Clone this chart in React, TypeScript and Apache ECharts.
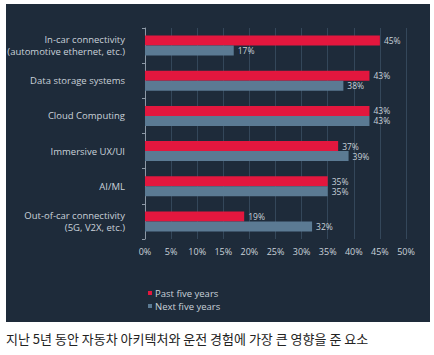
import React, { useEffect, useRef } from "react";
import * as echarts from "echarts";

const categories = [
  "In-car connectivity\n(automotive ethernet, etc.)",
  "Data storage systems",
  "Cloud Computing",
  "Immersive UX/UI",
  "AI/ML",
  "Out-of-car connectivity\n(5G, V2X, etc.)",
];
const pastFiveYears = [45, 43, 43, 37, 35, 19];
const nextFiveYears = [17, 38, 43, 39, 35, 32];
const seriesNames = ["Past five years", "Next five years"];
const title = "지난 5년 동안 자동차 아키텍처와 운전 경험에 가장 큰 영향을 준 요소";

export default function App() {
  const ref = useRef<HTMLDivElement>(null);
  useEffect(() => {
    document.body.style.margin = "0";
    const chart = echarts.init(ref.current!, null, { renderer: "svg" });
    const labelColor = "#c9d1d9";
    const valueLabel = {
      show: true,
      position: "right",
      distance: 4,
      formatter: "{c}%",
      color: labelColor,
      fontSize: 8.5,
      lineHeight: 9,
    };
    chart.setOption({
      animation: false,
      backgroundColor: "#ffffff",
      textStyle: { fontFamily: "Open Sans" },
      graphic: [
        {
          type: "rect",
          shape: { x: 6, y: 4, width: 424, height: 318 },
          style: { fill: "#1e2b3a" },
          z: -10,
          silent: true,
        },
        {
          type: "text",
          x: 6,
          y: 338,
          style: {
            text: title,
            fill: "#222222",
            fontSize: 13,
            fontFamily: "Noto Sans CJK KR",
            verticalAlign: "middle",
          },
        },
      ],
      grid: { left: 145, right: 28, top: 28, height: 211, containLabel: false },
      legend: {
        orient: "vertical",
        left: 143,
        top: 283,
        itemWidth: 4,
        itemHeight: 4,
        itemGap: 3,
        icon: "rect",
        textStyle: { color: labelColor, fontSize: 9.5, padding: [0, 0, 0, -2] },
        data: seriesNames,
      },
      xAxis: {
        type: "value",
        min: 0,
        max: 50,
        interval: 5,
        axisLine: { show: false },
        axisTick: { show: false },
        axisLabel: { formatter: "{value}%", color: labelColor, fontSize: 9, margin: 8 },
        splitLine: { show: true, lineStyle: { color: "#34475a", width: 1 } },
      },
      yAxis: {
        type: "category",
        inverse: true,
        data: categories,
        axisLine: { show: true, lineStyle: { color: "#8d99a6" } },
        axisTick: { show: true, length: 3, lineStyle: { color: "#8d99a6" } },
        axisLabel: { color: labelColor, fontSize: 9.5, margin: 20, lineHeight: 12, align: "right" },
      },
      series: [
        {
          name: seriesNames[0],
          type: "bar",
          data: pastFiveYears,
          barWidth: 10,
          barGap: "0%",
          itemStyle: { color: "#e3173e" },
          label: valueLabel,
        },
        {
          name: seriesNames[1],
          type: "bar",
          data: nextFiveYears,
          barWidth: 10,
          barGap: "0%",
          itemStyle: { color: "#5b7a93" },
          label: valueLabel,
        },
      ],
    });
    return () => chart.dispose();
  }, []);
  return <div ref={ref} style={{ width: 434, height: 355, position: "fixed", left: 0, top: 0 }} />;
}
